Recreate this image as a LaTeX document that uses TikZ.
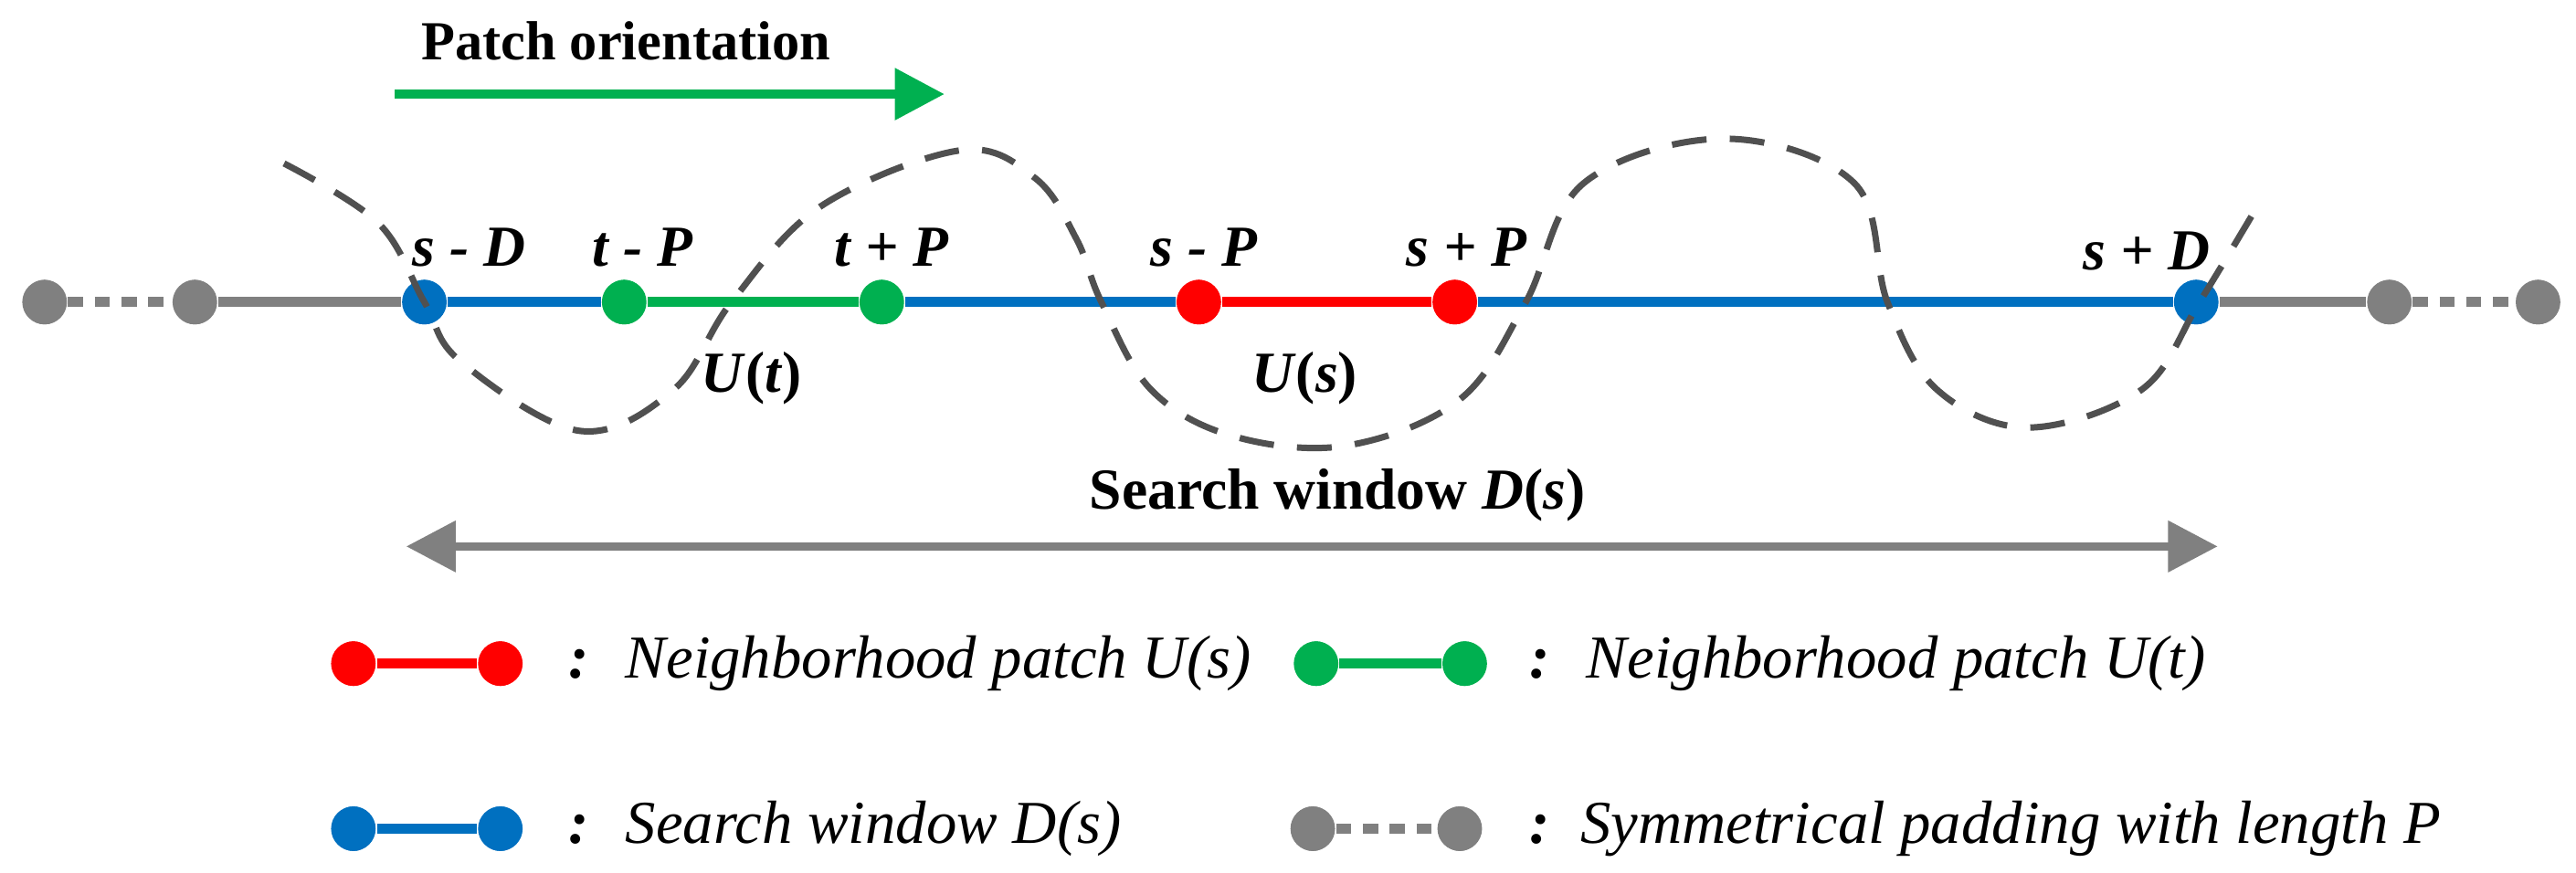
\documentclass[tikz,border=0pt]{standalone}
\usepackage{fontspec}
\setmainfont{Liberation Serif}
\usetikzlibrary{arrows.meta}
\definecolor{cR}{HTML}{FF0000}
\definecolor{cG}{HTML}{00B050}
\definecolor{cB}{HTML}{0070C0}
\definecolor{cY}{HTML}{808080}
\definecolor{cD}{HTML}{505050}
\begin{document}
\begin{tikzpicture}[x=0.01cm,y=-0.01cm,
  dot/.style={circle,fill=#1,inner sep=0pt,minimum width=0.25cm,minimum height=0.27cm},
  seg/.style={line width=1.7pt,draw=#1},
  pad/.style={line width=1.7pt,draw=cY,dash pattern=on 2.6pt off 2pt},
  lab/.style={font=\fontsize{10}{12}\selectfont\bfseries\itshape},
  leg/.style={font=\fontsize{10.5}{12}\selectfont\itshape,anchor=west}]
\useasboundingbox (0,0) rectangle (1560,528.3);
% main line dots
\node[dot=cY] (g1) at (27,183) {};
\node[dot=cY] (g2) at (118,183) {};
\node[dot=cB] (b1) at (257,183) {};
\node[dot=cG] (t1) at (378,183) {};
\node[dot=cG] (t2) at (534,183) {};
\node[dot=cR] (r1) at (726,183) {};
\node[dot=cR] (r2) at (881,183) {};
\node[dot=cB] (b2) at (1330,183) {};
\node[dot=cY] (g3) at (1447,183) {};
\node[dot=cY] (g4) at (1537,183) {};
\begin{scope}[on background layer/.style={}]
\draw[pad] (g1) -- (g2);
\draw[pad] (g3) -- (g4);
\end{scope}
\draw[seg=cY] (g2) -- (b1);
\draw[seg=cB] (b1) -- (t1);
\draw[seg=cG] (t1) -- (t2);
\draw[seg=cB] (t2) -- (r1);
\draw[seg=cR] (r1) -- (r2);
\draw[seg=cB] (r2) -- (b2);
\draw[seg=cY] (b2) -- (g3);
% redraw dots on top
\foreach \n/\c in {g1/cY,g2/cY,b1/cB,t1/cG,t2/cG,r1/cR,r2/cR,b2/cB,g3/cY,g4/cY}
  \fill[\c] (\n) ellipse [x radius=0.125cm, y radius=0.135cm];
% dashed curve
\draw[cD,line width=1.1pt,dash pattern=on 6pt off 4pt] plot[smooth,tension=0.6] coordinates {
 (172,99) (229,135) (257,183) (279,219) (351,261) (408,236) (443,183) (497,125)
 (582,91) (627,108) (652,145) (667,183) (697,236) (746,264) (815,270) (884,242)
 (924,183) (959,111) (1044,84) (1123,111) (1143,183) (1173,236) (1228,259)
 (1297,236) (1332,183) (1370,120)};
% labels
\node[lab] (lsD) at (284,150) {s - D};
\node[lab] (ltP) at (389,150) {t - P};
\node[lab] (ltp) at (540,150) {t + P};
\node[lab] (lsP) at (729,150) {s - P};
\node[lab] (lsp) at (888,150) {s + P};
\node[lab] (lsd) at (1300,152) {s + D};
\node[lab] (Ut) at (455,229) {U\textup{(}t\textup{)}};
\node[lab] (Us) at (790,229) {U\textup{(}s\textup{)}};
% patch orientation
\node[font=\fontsize{9.5}{11}\selectfont\bfseries] (po) at (379,25) {Patch orientation};
\coordinate (pa) at (239,57);
\coordinate (pb) at (572,57);
\draw[cG,line width=1.7pt,-{Triangle[length=0.3cm,width=0.3cm]}] (pa) -- (pb);
% search window
\node[font=\fontsize{10}{12}\selectfont\bfseries] (sw) at (810,300) {Search window \textit{D}(\textit{s})};
\coordinate (sa) at (246,331);
\coordinate (sb) at (1343,331);
\draw[cY,line width=1.5pt,{Triangle[length=0.3cm,width=0.3cm]}-{Triangle[length=0.3cm,width=0.3cm]}] (sa) -- (sb);
% legend
\node[dot=cR] (lr1) at (214,402) {};
\node[dot=cR] (lr2) at (303,402) {};
\draw[seg=cR] (lr1) -- (lr2);
\node[leg] (tr) at (332,402) {\textbf{:}\hspace{0.6em}Neighborhood patch \textit{U}(\textit{s})};
\node[dot=cG] (lg1) at (797,402) {};
\node[dot=cG] (lg2) at (887,402) {};
\draw[seg=cG] (lg1) -- (lg2);
\node[leg] (tg) at (914,402) {\textbf{:}\hspace{0.6em}Neighborhood patch \textit{U}(\textit{t})};
\node[dot=cB] (lb1) at (214,502) {};
\node[dot=cB] (lb2) at (303,502) {};
\draw[seg=cB] (lb1) -- (lb2);
\node[leg] (tb) at (332,502) {\textbf{:}\hspace{0.6em}Search window \textit{D}(\textit{s})};
\node[dot=cY] (ly1) at (795,502) {};
\node[dot=cY] (ly2) at (884,502) {};
\draw[pad] (ly1) -- (ly2);
\node[leg] (ty) at (914,502) {\textbf{:}\hspace{0.5em}Symmetrical padding with length \textit{P}};
\foreach \n/\c in {lr1/cR,lr2/cR,lg1/cG,lg2/cG,lb1/cB,lb2/cB,ly1/cY,ly2/cY}
  \fill[\c] (\n) ellipse [x radius=0.125cm, y radius=0.135cm];
\end{tikzpicture}
\end{document}
